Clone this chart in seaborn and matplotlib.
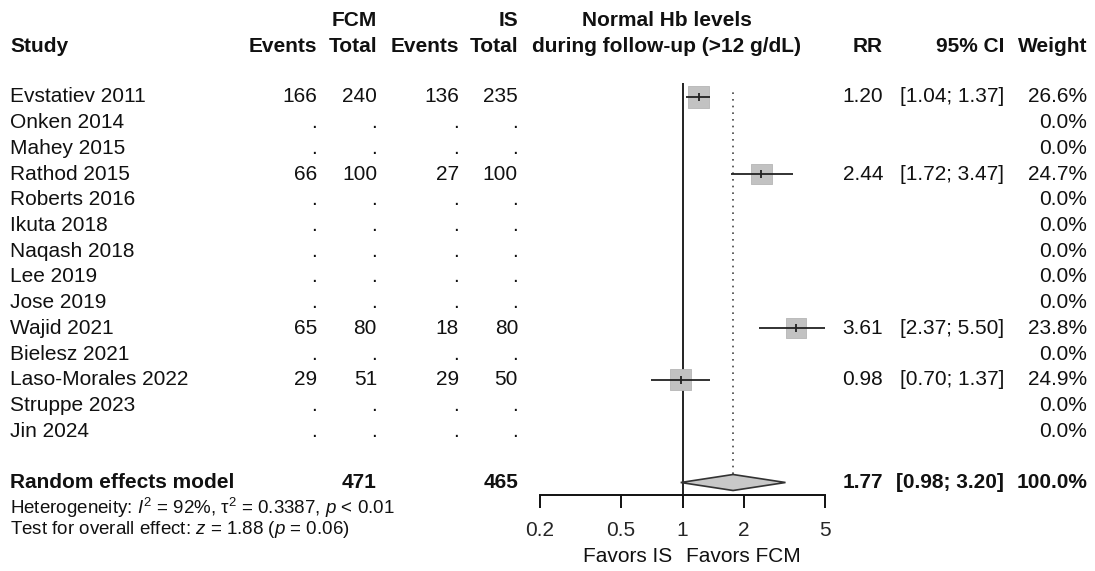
import numpy as np
import pandas as pd
import matplotlib
matplotlib.use("Agg")
import matplotlib.pyplot as plt
import seaborn as sns
from matplotlib.transforms import blended_transform_factory

# ---------------- data ----------------
studies = ["Evstatiev 2011", "Onken 2014", "Mahey 2015", "Rathod 2015", "Roberts 2016",
           "Ikuta 2018", "Naqash 2018", "Lee 2019", "Jose 2019", "Wajid 2021",
           "Bielesz 2021", "Laso-Morales 2022", "Struppe 2023", "Jin 2024"]
fcm_events = [166, None, None, 66, None, None, None, None, None, 65, None, 29, None, None]
fcm_total = [240, None, None, 100, None, None, None, None, None, 80, None, 51, None, None]
is_events = [136, None, None, 27, None, None, None, None, None, 18, None, 29, None, None]
is_total = [235, None, None, 100, None, None, None, None, None, 80, None, 50, None, None]
rr = [1.20, None, None, 2.44, None, None, None, None, None, 3.61, None, 0.98, None, None]
ci_low = [1.04, None, None, 1.72, None, None, None, None, None, 2.37, None, 0.70, None, None]
ci_high = [1.37, None, None, 3.47, None, None, None, None, None, 5.50, None, 1.37, None, None]
weights = [26.6, 0.0, 0.0, 24.7, 0.0, 0.0, 0.0, 0.0, 0.0, 23.8, 0.0, 24.9, 0.0, 0.0]

pooled_rr, pooled_low, pooled_high = 1.77, 0.98, 3.20
total_fcm, total_is = 471, 465
het_text = r"Heterogeneity: $I^2$ = 92%, τ$^2$ = 0.3387, $p$ < 0.01"
test_text = r"Test for overall effect: $z$ = 1.88 ($p$ = 0.06)"
xticks = [0.2, 0.5, 1, 2, 5]
xtick_labels = ["0.2", "0.5", "1", "2", "5"]

# ---------------- style ----------------
sns.set_style("white")
plt.rcParams["font.family"] = ["Liberation Sans", "DejaVu Sans"]
plt.rcParams["mathtext.fontset"] = "custom"
plt.rcParams["mathtext.rm"] = "Liberation Sans"
plt.rcParams["mathtext.it"] = "Liberation Sans:italic"
plt.rcParams["mathtext.bf"] = "Liberation Sans:bold"

W, H = 1095, 571
fig = plt.figure(figsize=(W / 100, H / 100), dpi=100)

row0_px, row_step = 97.0, 25.7
def row_of(px):
    return (px - row0_px) / row_step

ax_left_px, ax_right_px = 540, 825
ax_top_px, ax_bot_px = 7, 495
ax = fig.add_axes([ax_left_px / W, 1 - ax_bot_px / H,
                   (ax_right_px - ax_left_px) / W, (ax_bot_px - ax_top_px) / H])
ax.set_xscale("log")
ax.set_xlim(0.2, 5)
ax.set_ylim(row_of(ax_bot_px), row_of(ax_top_px))

df = pd.DataFrame({"study": studies, "rr": rr, "lo": ci_low, "hi": ci_high, "w": weights})
df["row"] = np.arange(len(df))
dv = df.dropna(subset=["rr"]).astype({"rr": float, "lo": float, "hi": float})

# reference lines
ax.vlines(1, row_of(494), row_of(83), color="#222222", lw=1.4, zorder=1)
ax.vlines(pooled_rr, row_of(474), row_of(88), color="#444444", lw=1.2,
          linestyles=(0, (1, 3)), zorder=1)

# squares (area proportional to weight)
sns.scatterplot(data=dv, x="rr", y="row", size="w", sizes=(215, 240),
                size_norm=(23.8, 26.6), marker="s", color="#c2c2c2",
                edgecolor="#b5b5b5", linewidth=0.6, legend=False, ax=ax, zorder=2)
# CI lines
ax.hlines(dv["row"], dv["lo"], dv["hi"], color="#222222", lw=1.3, zorder=3)
ax.scatter(dv["rr"], dv["row"], marker="|", s=40, color="#222222", linewidths=1.3, zorder=4)

# pooled diamond
pr = len(studies) + 1  # row 15
hh = 8 / row_step
ax.fill([pooled_low, pooled_rr, pooled_high, pooled_rr],
        [pr, pr - hh, pr, pr + hh], facecolor="#c8c8c8", edgecolor="#333333",
        lw=1.2, zorder=3)

# axis styling
for s in ["top", "right", "left"]:
    ax.spines[s].set_visible(False)
ax.spines["bottom"].set_color("#111111")
ax.spines["bottom"].set_linewidth(1.4)
ax.set_xticks(xticks)
ax.set_xticklabels(xtick_labels)
ax.minorticks_off()
ax.tick_params(axis="x", direction="out", length=9, width=1.4, color="#111111",
               labelsize=15, pad=10, bottom=True)
ax.set_yticks([])
ax.set_xlabel("")
ax.set_ylabel("")
ax.patch.set_alpha(0)

# ---------------- text table ----------------
tr = blended_transform_factory(fig.transFigure, ax.transData)
FS = 15
def put(xpx, row, s, ha="left", bold=False, size=FS):
    ax.text(xpx / W, row, s, transform=tr, ha=ha, va="center", fontsize=size,
            fontweight="bold" if bold else "normal", color="#111111", clip_on=False)

def fmt(v):
    return "." if v is None else str(v)

hdr1, hdr2 = row_of(21), row_of(46)
put(377, hdr1, "FCM", "right", True)
put(518, hdr1, "IS", "right", True)
put(667, hdr1, "Normal Hb levels", "center", True)
put(10, hdr2, "Study", "left", True)
put(317, hdr2, "Events", "right", True)
put(377, hdr2, "Total", "right", True)
put(459, hdr2, "Events", "right", True)
put(518, hdr2, "Total", "right", True)
put(667, hdr2, "during follow-up (>12 g/dL)", "center", True)
put(883, hdr2, "RR", "right", True)
put(1004, hdr2, "95% CI", "right", True)
put(1087, hdr2, "Weight", "right", True)

for i in range(len(studies)):
    put(10, i, studies[i])
    put(317, i, fmt(fcm_events[i]), "right")
    put(377, i, fmt(fcm_total[i]), "right")
    put(459, i, fmt(is_events[i]), "right")
    put(518, i, fmt(is_total[i]), "right")
    if rr[i] is not None:
        put(883, i, f"{rr[i]:.2f}", "right")
        put(1004, i, f"[{ci_low[i]:.2f}; {ci_high[i]:.2f}]", "right")
    put(1087, i, f"{weights[i]:.1f}%", "right")

put(10, pr, "Random effects model", "left", True)
put(377, pr, str(total_fcm), "right", True)
put(518, pr, str(total_is), "right", True)
put(883, pr, f"{pooled_rr:.2f}", "right", True)
put(1004, pr, f"[{pooled_low:.2f}; {pooled_high:.2f}]", "right", True)
put(1087, pr, "100.0%", "right", True)

put(10, row_of(508), het_text, "left", size=13.5)
put(10, row_of(530), test_text, "left", size=13.5)

fig.text(672 / W, 1 - 556 / H, "Favors IS", ha="right", va="center", fontsize=15, color="#111111")
fig.text(686 / W, 1 - 556 / H, "Favors FCM", ha="left", va="center", fontsize=15, color="#111111")

fig.savefig("out.png", dpi=100, facecolor="white")
